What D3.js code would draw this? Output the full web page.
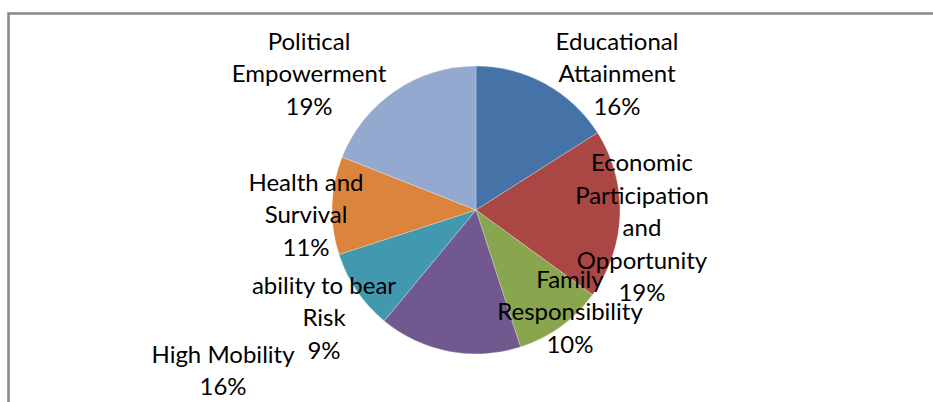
<!DOCTYPE html>
<html>
<head>
<meta charset="utf-8">
<script src="https://cdn.jsdelivr.net/npm/d3@7"></script>
<style>
  html, body { margin: 0; padding: 0; background: #fff; }
  svg { display: block; }
</style>
</head>
<body>
<svg id="chart" width="933" height="402"></svg>
<script>
// ---- data ----
const categories = [
  "Educational Attainment",
  "Economic Participation and Opportunity",
  "Family Responsibility",
  "High Mobility",
  "ability to bear Risk",
  "Health and Survival",
  "Political Empowerment"
];
const values = [16, 19, 10, 16, 9, 11, 19];
const labelLines = [
  ["Educational", "Attainment"],
  ["Economic", "Participation", "and", "Opportunity"],
  ["Family", "Responsibility"],
  ["High Mobility"],
  ["ability to bear", "Risk"],
  ["Health and", "Survival"],
  ["Political", "Empowerment"]
];
const colors = ["#4572A7", "#AA4643", "#89A54E", "#71588F", "#4198AF", "#DB843D", "#93A9CF"];

// ---- layout (label block centres relative to pie centre) ----
const labelOffsets = [
  [141, -128], [166, 26], [94, 110], [-253, 169], [-152, 116], [-170, 13], [-167, -128]
];

const svg = d3.select("#chart");
const W = 933, H = 402;
const cx = 476, cy = 210, R = 144;
const lineH = 32.5;
const fontSize = 24;

// outer frame
svg.append("rect")
  .attr("x", 8.5).attr("y", 13.5)
  .attr("width", W + 20).attr("height", H + 20)
  .attr("fill", "none")
  .attr("stroke", "#878787")
  .attr("stroke-width", 2.5);

const color = d3.scaleOrdinal().domain(categories).range(colors);
const total = d3.sum(values);

const pie = d3.pie().sort(null).value(d => d.v)
  .startAngle(0).endAngle(2 * Math.PI);
const arcs = pie(categories.map((c, i) => ({ c, v: values[i], i })));
const arc = d3.arc().innerRadius(0).outerRadius(R);

const g = svg.append("g").attr("transform", `translate(${cx},${cy})`);
g.selectAll("path").data(arcs).enter().append("path")
  .attr("d", arc)
  .attr("fill", d => color(d.data.c))
  .attr("stroke", "#ffffff")
  .attr("stroke-opacity", 0.45)
  .attr("stroke-width", 0.6);

const fmt = d3.format(".0%");
const lg = svg.append("g").attr("transform", `translate(${cx},${cy})`);
arcs.forEach((d, i) => {
  const lines = labelLines[i].concat([fmt(d.data.v / total)]);
  const [ox, oy] = labelOffsets[i];
  const n = lines.length;
  const t = lg.append("text")
    .attr("text-anchor", "middle")
    .attr("font-family", "Lato, 'Open Sans', sans-serif")
    .attr("font-size", fontSize)
    .attr("fill", "#000");
  lines.forEach((ln, k) => {
    t.append("tspan")
      .attr("x", ox)
      .attr("y", oy + (k - (n - 1) / 2) * lineH)
      .text(ln);
  });
});
</script>
</body>
</html>
